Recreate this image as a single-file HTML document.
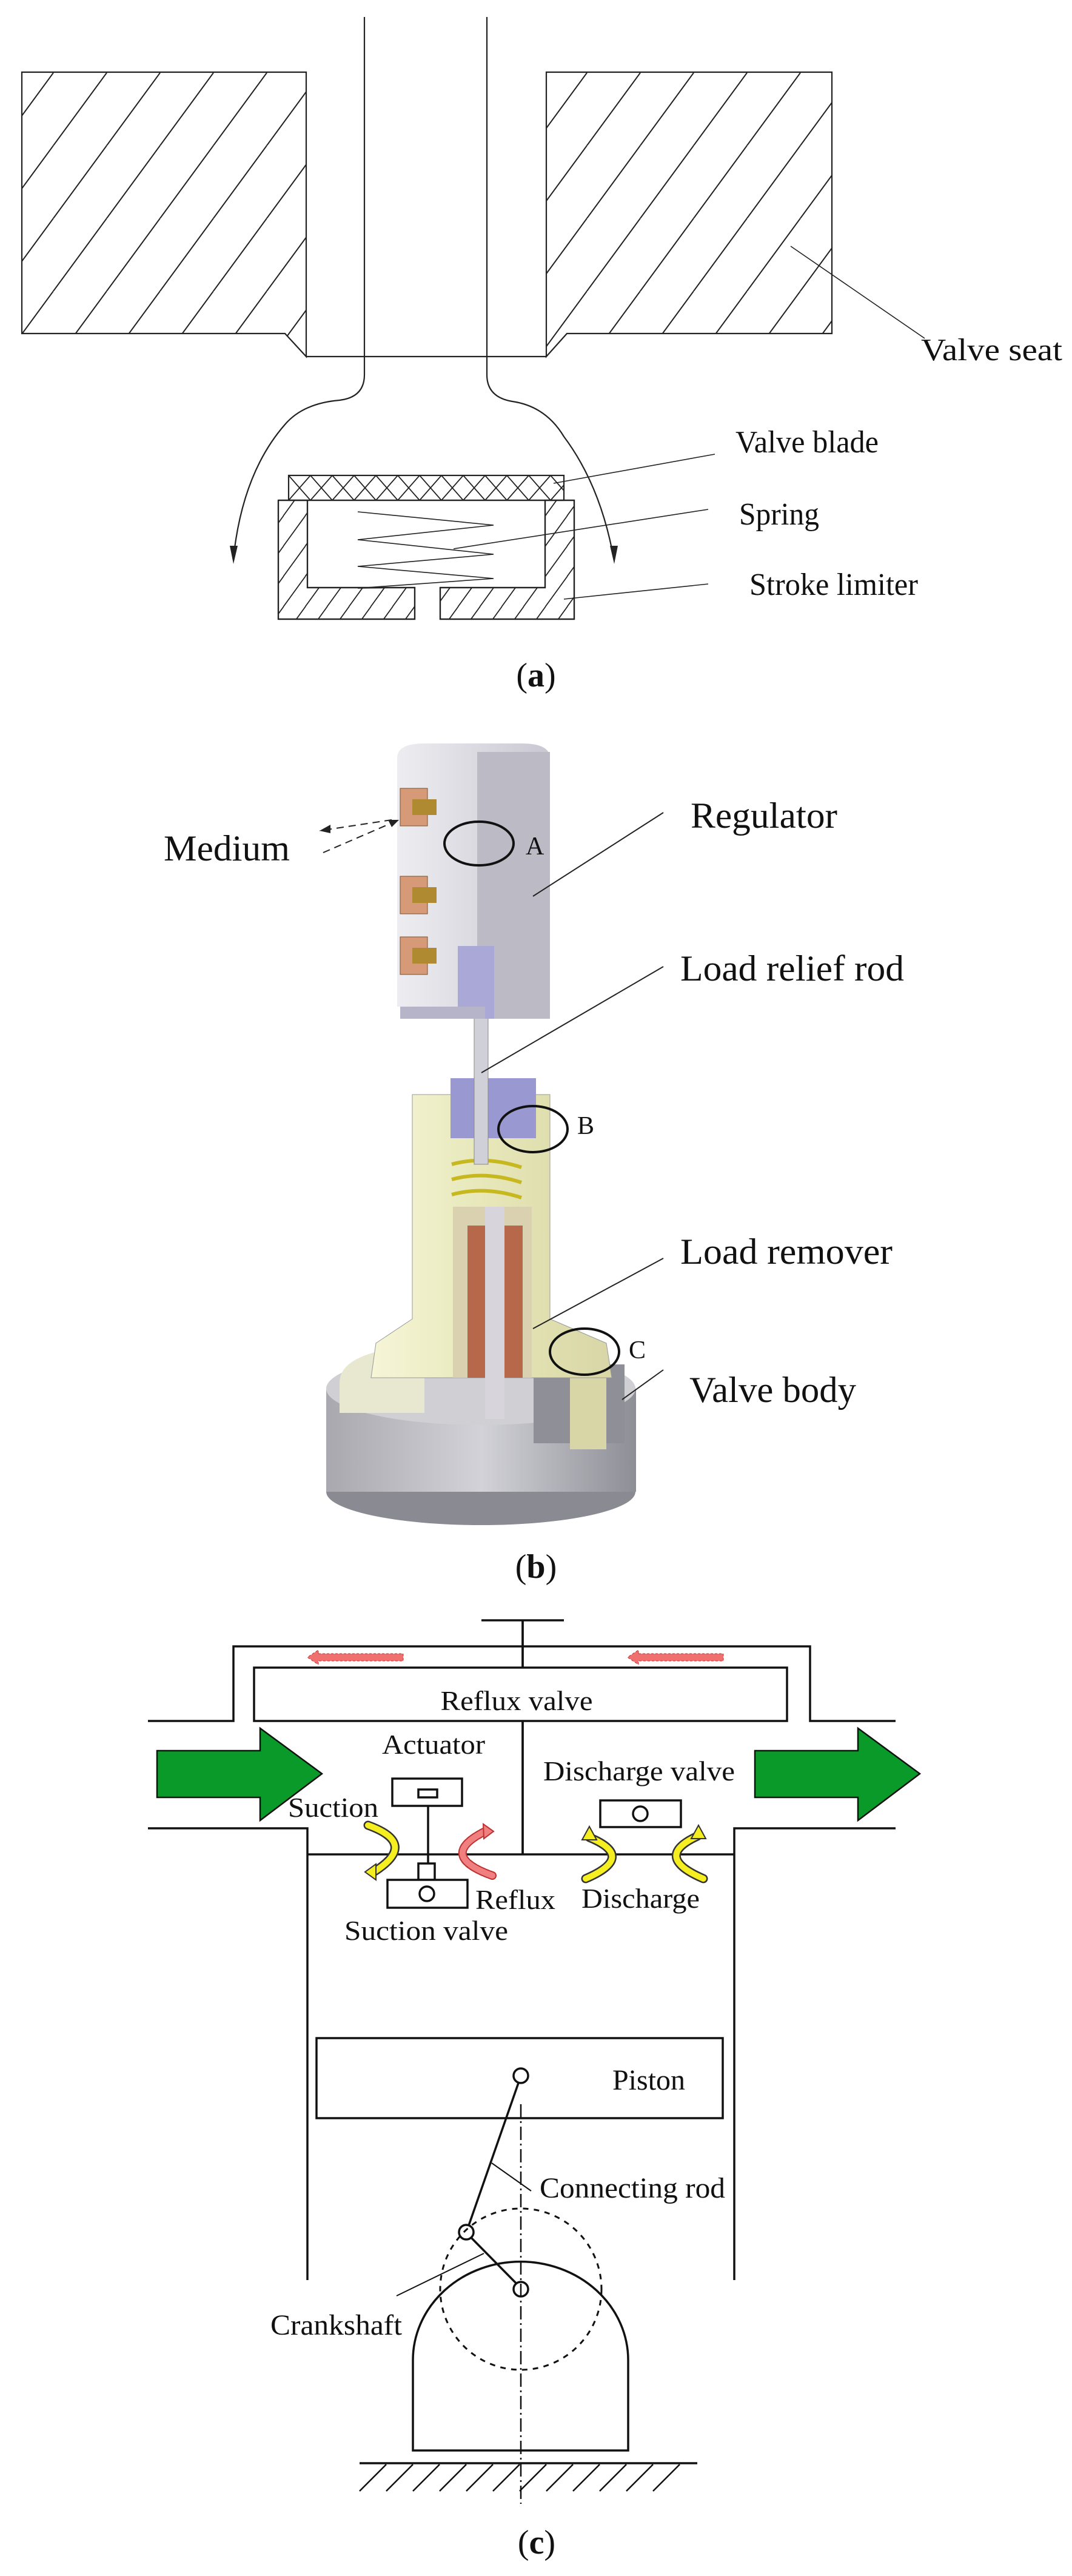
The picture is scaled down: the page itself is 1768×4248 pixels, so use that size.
<!DOCTYPE html>
<html><head><meta charset="utf-8"><style>
html,body{margin:0;padding:0;background:#fff}
svg{display:block}
text{font-family:"Liberation Serif",serif;fill:#111}
</style></head><body>
<svg width="1768" height="4248" viewBox="0 0 1768 4248" xmlns="http://www.w3.org/2000/svg">
<defs>
<pattern id="hatch" patternUnits="userSpaceOnUse" width="88" height="120">
<path d="M-22,150 L88,0 M66,150 L176,0 M-110,150 L0,0" stroke="#222" stroke-width="2" fill="none"/>
</pattern>
<pattern id="hatchs" patternUnits="userSpaceOnUse" width="36" height="50">
<path d="M-9,62 L36,0 M27,62 L72,0 M-45,62 L0,0" stroke="#222" stroke-width="1.8" fill="none"/>
</pattern>
<pattern id="cross" patternUnits="userSpaceOnUse" width="36" height="41" x="476" y="784">
<path d="M0,0 L36,41 M36,0 L0,41" stroke="#222" stroke-width="1.8" fill="none"/>
</pattern>
<linearGradient id="gblock" x1="0" x2="1"><stop offset="0" stop-color="#ededf1"/><stop offset="1" stop-color="#c9c8d2"/></linearGradient>
<linearGradient id="gyel" x1="0" x2="1"><stop offset="0" stop-color="#f6f6d8"/><stop offset="0.5" stop-color="#e6e6b8"/><stop offset="1" stop-color="#d8d6a6"/></linearGradient>
<linearGradient id="gbase" x1="0" x2="1"><stop offset="0" stop-color="#a8a8ae"/><stop offset="0.5" stop-color="#d2d2d8"/><stop offset="1" stop-color="#8e8e96"/></linearGradient>
</defs>

<!-- ===== (a) ===== -->
<g stroke="#222" stroke-width="2.2" fill="none">
<path d="M36,119 H505 V588 L470,550 H36 Z" fill="url(#hatch)"/>
<path d="M901,119 H1372 V550 H935 L901,588 Z" fill="url(#hatch)"/>
<path d="M505,588 H901"/>
<path d="M601,28 V618 Q601,655 560,660 Q500,665 470,700 Q400,780 385,920"/>
<path d="M803,28 V618 Q803,655 845,662 Q900,670 930,720 Q990,800 1012,920"/>
<rect x="476" y="784" width="454" height="41" fill="url(#cross)"/>
<path d="M459,825 H947 V1021 H726 V969 H899 V825 M459,825 V1021 H684 V969 H507 V825" fill="none"/>
<path d="M459,825 H507 V969 H684 V1021 H459 Z" fill="url(#hatchs)"/>
<path d="M899,825 H947 V1021 H726 V969 H899 Z" fill="url(#hatchs)"/>
<polyline points="590,844 814,866 590,890 814,914 590,934 814,954 590,970 660,969" stroke-width="1.6"/>
<path d="M1304,406 L1525,558 M913,797 L1179,749 M748,905 L1168,840 M930,988 L1168,963" stroke-width="1.6"/>
</g>
<polygon points="379,900 392,900 385,930" fill="#222"/>
<polygon points="1006,900 1019,900 1013,930" fill="#222"/>
<text x="1519" y="594" font-size="52" textLength="233" lengthAdjust="spacingAndGlyphs">Valve seat</text>
<text x="1213" y="746" font-size="52" textLength="236" lengthAdjust="spacingAndGlyphs">Valve blade</text>
<text x="1219" y="865" font-size="52" textLength="132" lengthAdjust="spacingAndGlyphs">Spring</text>
<text x="1236" y="981" font-size="52" textLength="278" lengthAdjust="spacingAndGlyphs">Stroke limiter</text>
<text x="884" y="1132" font-size="56" text-anchor="middle">(<tspan font-weight="bold">a</tspan>)</text>

<!-- ===== (b) ===== -->
<!-- base -->
<ellipse cx="793" cy="2460" rx="255" ry="55" fill="#8a8a92"/>
<rect x="538" y="2290" width="511" height="170" fill="url(#gbase)"/>
<ellipse cx="793" cy="2290" rx="255" ry="60" fill="#cfcfd4"/>
<path d="M560,2280 Q560,2240 640,2225 L700,2240 L700,2330 L560,2330 Z" fill="#e8e8d0"/>
<rect x="880" y="2250" width="150" height="130" fill="#8f8f98"/>
<rect x="940" y="2240" width="60" height="150" fill="#d8d6a6"/>
<!-- yellow body -->
<path d="M680,1805 H907 V2175 L1000,2215 L1009,2272 L612,2272 L620,2215 L680,2175 Z" fill="url(#gyel)" stroke="#999" stroke-width="1"/>
<rect x="747" y="1990" width="130" height="282" fill="#d9d1b0"/>
<rect x="771" y="2021" width="91" height="251" fill="#b8684a"/>
<rect x="800" y="1990" width="32" height="350" fill="#d8d4dc"/>
<path d="M745,1920 Q800,1905 860,1925 M745,1945 Q800,1930 860,1950 M745,1970 Q800,1955 860,1975" stroke="#c8b820" stroke-width="6" fill="none"/>
<rect x="743" y="1778" width="141" height="99" fill="#9a98d0"/>
<!-- rod -->
<rect x="782" y="1600" width="23" height="320" fill="#d0d0d8" stroke="#888" stroke-width="1"/>
<!-- top block -->
<path d="M655,1250 Q655,1226 700,1226 L860,1226 Q907,1226 907,1250 V1660 H655 Z" fill="url(#gblock)"/>
<rect x="787" y="1240" width="120" height="440" fill="#bcbbc5"/>
<rect x="755" y="1560" width="60" height="120" fill="#aaa8d6"/>
<rect x="660" y="1660" width="140" height="20" fill="#b6b4c8"/>
<g fill="#d79a78" stroke="#7a5030" stroke-width="1">
<rect x="660" y="1300" width="45" height="62"/><rect x="660" y="1445" width="45" height="62"/><rect x="660" y="1545" width="45" height="62"/>
</g>
<g fill="#b08a30"><rect x="680" y="1318" width="40" height="26"/><rect x="680" y="1463" width="40" height="26"/><rect x="680" y="1563" width="40" height="26"/></g>
<g fill="none" stroke="#111" stroke-width="4">
<ellipse cx="790" cy="1391" rx="57" ry="36"/>
<ellipse cx="879" cy="1862" rx="57" ry="38"/>
<ellipse cx="964" cy="2229" rx="57" ry="38"/>
</g>
<g stroke="#222" stroke-width="2" fill="none">
<path d="M1094,1340 L879,1478 M1094,1594 L794,1769 M1094,2075 L879,2191 M1094,2259 L1026,2308"/>
<path d="M646,1352 L527,1370 M533,1406 L658,1352" stroke-dasharray="12,8"/>
</g>
<polygon points="527,1370 545,1360 545,1374" fill="#222"/>
<polygon points="658,1352 640,1352 646,1364" fill="#222"/>
<text x="270" y="1419" font-size="60" textLength="208" lengthAdjust="spacingAndGlyphs">Medium</text>
<text x="1139" y="1365" font-size="60" textLength="242" lengthAdjust="spacingAndGlyphs">Regulator</text>
<text x="1122" y="1617" font-size="60" textLength="369" lengthAdjust="spacingAndGlyphs">Load relief rod</text>
<text x="1122" y="2084" font-size="60" textLength="350" lengthAdjust="spacingAndGlyphs">Load remover</text>
<text x="1137" y="2312" font-size="60" textLength="275" lengthAdjust="spacingAndGlyphs">Valve body</text>
<text x="867" y="1409" font-size="42">A</text>
<text x="952" y="1870" font-size="42">B</text>
<text x="1037" y="2240" font-size="42">C</text>
<text x="884" y="2602" font-size="56" text-anchor="middle">(<tspan font-weight="bold">b</tspan>)</text>

<!-- ===== (c) ===== -->
<g stroke="#111" stroke-width="3.5" fill="none">
<path d="M794,2672 H930 M862,2672 V3058"/>
<path d="M244,2838 H385 V2715 H1336 V2838 H1477"/>
<rect x="419" y="2750" width="879" height="88" fill="#fff"/>
<path d="M862,2672 V2750 M862,2838 V3058"/>
<path d="M244,3015 H507 V3760 M1477,3015 H1211 V3760"/>
<path d="M507,3058 H1211"/>
<rect x="647" y="2933" width="115" height="45" fill="#fff"/>
<rect x="690" y="2951" width="31" height="13"/>
<path d="M706,2978 V3073"/>
<rect x="690" y="3073" width="27" height="27" fill="#fff"/>
<rect x="639" y="3100" width="132" height="46" fill="#fff"/>
<circle cx="704" cy="3123" r="12"/>
<rect x="990" y="2969" width="133" height="44" fill="#fff"/>
<circle cx="1056" cy="2991" r="12"/>
</g>
<!-- red arrows -->
<g fill="#f07070" stroke="#c03030" stroke-width="1" stroke-dasharray="4,3">
<path d="M525,2727 H665 V2739 H525 V2745 L507,2733 L525,2721 Z"/>
<path d="M1053,2727 H1193 V2739 H1053 V2745 L1035,2733 L1053,2721 Z"/>
</g>
<!-- green arrows -->
<polygon points="259,2887 429,2887 429,2850 531,2925 429,3002 429,2964 259,2964" fill="#0a9a2a" stroke="#111" stroke-width="2.5"/>
<polygon points="1245,2887 1415,2887 1415,2850 1517,2925 1415,3002 1415,2964 1245,2964" fill="#0a9a2a" stroke="#111" stroke-width="2.5"/>
<!-- yellow / red curved arrows -->
<g fill="none" stroke-linecap="round">
<path d="M607,3010 Q690,3040 618,3086" stroke="#333" stroke-width="15"/>
<path d="M607,3010 Q690,3040 618,3086" stroke="#f5ee20" stroke-width="10"/>
<path d="M812,3093 Q720,3060 800,3020" stroke="#c03030" stroke-width="14" stroke-dasharray="5,3"/>
<path d="M812,3093 Q720,3060 800,3020" stroke="#f08080" stroke-width="10"/>
<path d="M966,3098 Q1050,3062 972,3030" stroke="#333" stroke-width="15"/>
<path d="M966,3098 Q1050,3062 972,3030" stroke="#f5ee20" stroke-width="10"/>
<path d="M1160,3098 Q1076,3062 1150,3028" stroke="#333" stroke-width="15"/>
<path d="M1160,3098 Q1076,3062 1150,3028" stroke="#f5ee20" stroke-width="10"/>
</g>
<polygon points="620,3074 620,3100 602,3087" fill="#f5ee20" stroke="#333" stroke-width="2"/>
<polygon points="797,3008 814,3020 798,3032" fill="#f08080" stroke="#c03030" stroke-width="2"/>
<polygon points="960,3034 972,3012 984,3034" fill="#f5ee20" stroke="#333" stroke-width="2"/>
<polygon points="1140,3032 1152,3010 1164,3032" fill="#f5ee20" stroke="#333" stroke-width="2"/>
<text x="852" y="2820" font-size="46" text-anchor="middle" textLength="251" lengthAdjust="spacingAndGlyphs">Reflux valve</text>
<text x="630" y="2892" font-size="46" textLength="170" lengthAdjust="spacingAndGlyphs">Actuator</text>
<text x="475" y="2996" font-size="46" textLength="149" lengthAdjust="spacingAndGlyphs">Suction</text>
<text x="896" y="2936" font-size="46" textLength="316" lengthAdjust="spacingAndGlyphs">Discharge valve</text>
<text x="784" y="3148" font-size="46" textLength="132" lengthAdjust="spacingAndGlyphs">Reflux</text>
<text x="959" y="3146" font-size="46" textLength="195" lengthAdjust="spacingAndGlyphs">Discharge</text>
<text x="568" y="3199" font-size="46" textLength="270" lengthAdjust="spacingAndGlyphs">Suction valve</text>

<g stroke="#111" stroke-width="3.5" fill="none">
<rect x="522" y="3361" width="670" height="132"/>
<circle cx="859" cy="3423" r="12"/>
<path d="M855,3435 L773,3670"/>
<circle cx="769" cy="3681" r="12"/>
<path d="M777,3690 L851,3765"/>
<circle cx="859" cy="3775" r="12"/>
<circle cx="859" cy="3775" r="133" stroke-dasharray="9,9" stroke-width="3"/>
<path d="M681,3892 A177,162 0 0 1 1036,3892 V4041 H681 Z"/>
<path d="M593,4062 H1150"/>
<path d="M859,3470 V4129" stroke-width="2.5" stroke-dasharray="22,6,3,6"/>
</g>
<g stroke="#111" stroke-width="2.5">
<path d="M593,4108 L637,4064 M637,4108 L681,4064 M681,4108 L725,4064 M725,4108 L769,4064 M769,4108 L813,4064 M813,4108 L857,4064 M857,4108 L901,4064 M901,4108 L945,4064 M945,4108 L989,4064 M989,4108 L1033,4064 M1033,4108 L1077,4064 M1077,4108 L1121,4064"/>
<path d="M811,3567 L876,3613 M654,3786 L798,3716" stroke-width="2"/>
</g>
<text x="1010" y="3446" font-size="48" textLength="120" lengthAdjust="spacingAndGlyphs">Piston</text>
<text x="890" y="3624" font-size="48" textLength="306" lengthAdjust="spacingAndGlyphs">Connecting rod</text>
<text x="446" y="3850" font-size="48" textLength="217" lengthAdjust="spacingAndGlyphs">Crankshaft</text>
<text x="885" y="4211" font-size="56" text-anchor="middle">(<tspan font-weight="bold">c</tspan>)</text>
</svg>
</body></html>
